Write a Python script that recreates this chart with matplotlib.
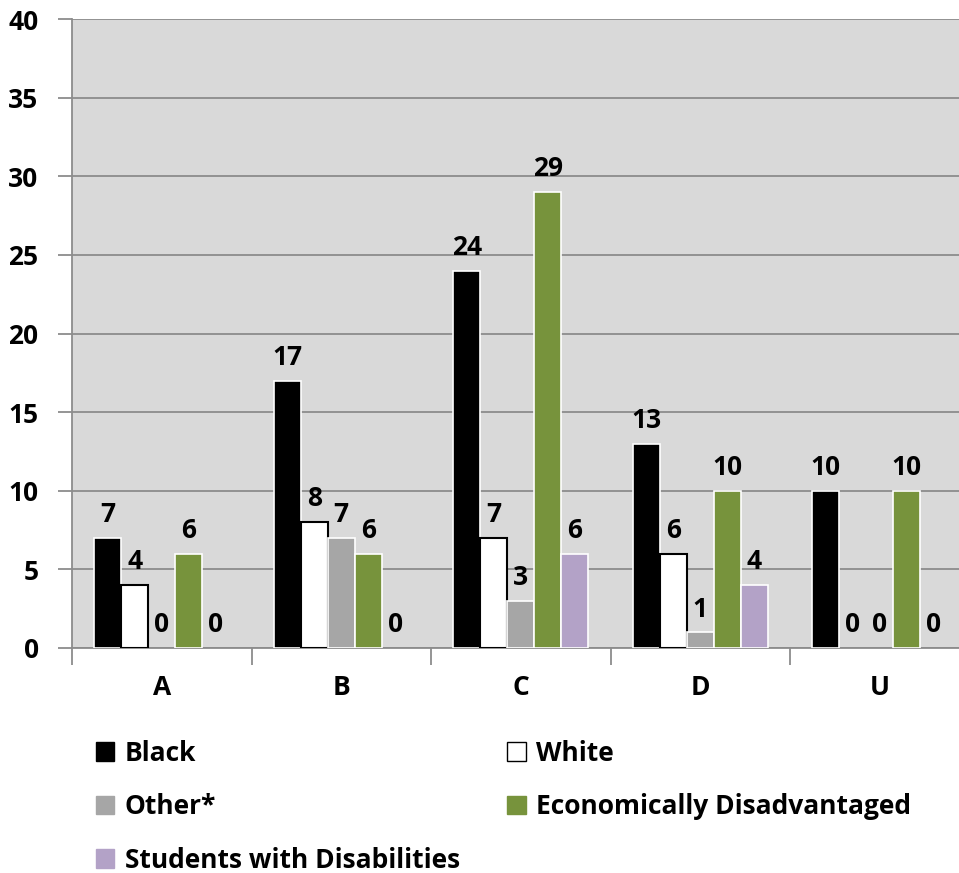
import matplotlib.pyplot as plt
from matplotlib.patches import Patch
import numpy as np

plt.rcParams["font.family"] = ["Open Sans", "DejaVu Sans"]
plt.rcParams["font.weight"] = "bold"

categories = ["A", "B", "C", "D", "U"]
black = [7, 17, 24, 13, 10]
white = [4, 8, 7, 6, 0]
other = [0, 7, 3, 1, 0]
econ = [6, 6, 29, 10, 10]
swd = [0, 0, 6, 4, 0]

series = [
    ("Black", black, "#000000", "white"),
    ("White", white, "#ffffff", "black"),
    ("Other*", other, "#a6a6a6", "white"),
    ("Economically Disadvantaged", econ, "#77933c", "white"),
    ("Students with Disabilities", swd, "#b3a2c7", "white"),
]
FS = 19

fig = plt.figure(figsize=(9.59, 8.73), dpi=100)
ax = fig.add_axes([72 / 959, 225 / 873, 897.5 / 959, 629 / 873])
ax.set_facecolor("#d9d9d9")

x = np.arange(len(categories))
width = 0.15
handles = {}
for i, (name, vals, color, edge) in enumerate(series):
    pos = x - 2 * width + i * width
    lws = [0 if v == 0 else (1.5 if edge == "black" else 1.2) for v in vals]
    bars = ax.bar(pos, vals, width=width, color=color, edgecolor=edge,
                  linewidth=lws, zorder=3)
    for b, v in zip(bars, vals):
        ax.annotate(str(v), (b.get_x() + b.get_width() / 2, v),
                    xytext=(0, 7), textcoords="offset points",
                    ha="center", va="bottom", fontsize=FS, fontweight="bold")
    handles[name] = Patch(facecolor=color, edgecolor="black" if edge == "black" else color,
                          linewidth=1)

ax.set_xlim(-0.5, len(categories) - 0.5)
ax.set_ylim(0, 40)
ax.set_yticks(range(0, 41, 5))
ax.yaxis.grid(True, color="#8c8c8c", linewidth=1.3, zorder=0)
ax.set_axisbelow(True)
ax.set_xticks(x)
ax.set_xticklabels(categories, fontsize=FS, fontweight="bold")
ax.set_xticks(np.arange(-0.5, len(categories), 1), minor=True)
ax.tick_params(axis="x", which="major", length=0, pad=19)
ax.tick_params(axis="x", which="minor", length=12, color="#8c8c8c", width=1.3)
ax.tick_params(axis="y", length=10, color="#8c8c8c", width=1.3, labelsize=FS, pad=14)
for lbl in ax.get_yticklabels():
    lbl.set_fontweight("bold")
for side in ["top", "right"]:
    ax.spines[side].set_visible(False)
ax.spines["left"].set_color("#8c8c8c")
ax.spines["left"].set_linewidth(1.3)
ax.spines["bottom"].set_color("#8c8c8c")
ax.spines["bottom"].set_linewidth(1.3)

order = ["Black", "Other*", "Students with Disabilities", "White", "Economically Disadvantaged"]
leg = fig.legend([handles[n] for n in order], order, ncol=2,
                 loc="upper left", bbox_to_anchor=(72 / 959, 1 - 716 / 873),
                 frameon=False, prop={"size": FS, "weight": "bold"},
                 handlelength=0.7, handleheight=0.7, handletextpad=0.4,
                 labelspacing=1.0, columnspacing=1.8)

fig.savefig("out.png", dpi=100)
